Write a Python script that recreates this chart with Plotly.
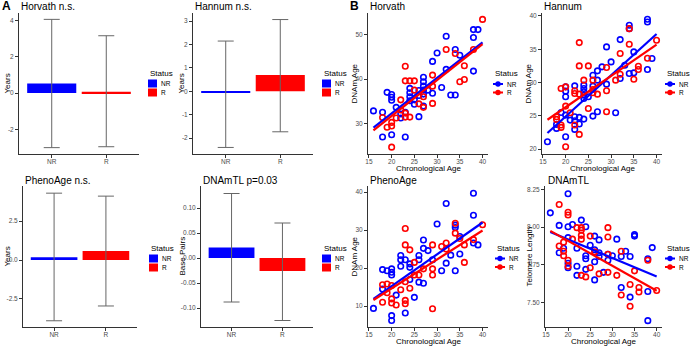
import plotly.graph_objects as go

W, H = 690, 346
BLUE, RED = "#0000FF", "#FF0000"
FONT = "Liberation Sans, Arial, sans-serif"

# ---------------- Panel A data (mean and error-bar limits) ----------------
groups = ["NR", "R"]
horvath_mean = [0.52, 0.07]
horvath_low = [-3.0, -2.95]
horvath_high = [4.05, 3.15]

hannum_mean = [-0.07, 0.70]
hannum_low = [-2.40, -1.73]
hannum_high = [2.15, 3.07]

pheno_mean = [0.18, 0.58]
pheno_low = [-3.90, -2.95]
pheno_high = [4.29, 4.10]

tl_mean = [0.021, -0.026]
tl_low = [-0.088, -0.125]
tl_high = [0.129, 0.070]

# ---------------- Panel B data (chronological age vs clock) ----------------
horvath_nr_age = [16, 18, 18, 19, 20, 20, 20, 20, 21, 22, 22, 23, 23, 24, 24, 24, 24, 25, 25, 26, 26, 26,
                  27, 27, 27, 27, 27, 27, 28, 29, 29, 30, 31, 32, 32, 33, 34, 34, 35, 38, 38, 38, 39]
horvath_nr_val = [32.8, 32.5, 26.9, 37.0, 36.5, 35.9, 35.2, 27.4, 33.6, 32.1, 31.2, 26.9, 32.5, 37.9, 36.9, 36.0, 35.1, 35.3, 34.3, 37.4, 36.3, 31.5,
                  40.4, 39.4, 38.4, 37.5, 36.6, 33.9, 37.5, 44.0, 36.8, 45.9, 38.1, 49.7, 42.2, 36.4, 46.7, 36.4, 45.4, 51.2, 49.4, 41.8, 51.2]
horvath_r_age = [18, 19, 20, 20, 20, 21, 22, 22, 23, 23, 23, 23, 24, 24, 25, 25, 26, 27, 27, 29, 29, 29,
                 32, 34, 35, 36, 36, 38, 40]
horvath_r_val = [31.3, 29.1, 30.2, 29.4, 24.6, 31.2, 35.3, 33.0, 42.9, 39.6, 32.3, 31.4, 39.6, 31.4, 39.6, 37.5, 34.4, 33.6, 36.0, 40.9, 38.4, 34.5,
                 46.7, 45.8, 39.4, 43.0, 39.9, 46.7, 53.5]
horvath_fit_nr = [29.0, 48.3]
horvath_fit_r = [28.4, 47.9]

hannum_nr_age = [16, 18, 18, 19, 20, 20, 20, 20, 20, 21, 22, 22, 22, 22, 23, 23, 24, 24, 24, 24, 24, 24, 25, 26, 26, 26,
                 27, 27, 27, 28, 29, 29, 30, 31, 32, 32, 33, 34, 34, 34, 35, 35, 38, 38, 38, 39]
hannum_nr_val = [21.1, 23.7, 23.1, 25.5, 29.35, 28.7, 27.85, 25.1, 21.85, 24.35, 29.5, 24.85, 24.25, 22.95, 24.75, 23.75, 29.6, 29.1, 28.6, 28.1, 27.6, 24.5, 27.85,
                 31.1, 29.45, 24.95, 31.75, 30.35, 25.6, 32.35, 35.35, 29.75, 33.1, 25.45, 36.45, 30.6, 32.6, 38.6, 38.1, 31.35, 34.6, 31.45, 39.5, 39.1, 31.95, 33.6]
hannum_r_age = [18, 18, 19, 19, 19, 20, 20, 20, 21, 22, 22, 22, 23, 23, 23, 23, 24, 25, 25, 26, 26, 26, 27, 29, 29, 29,
                31, 32, 32, 34, 34, 35, 36, 36, 38, 40]
hannum_r_val = [24.85, 24.45, 29.1, 23.6, 23.25, 29.35, 26.45, 20.35, 25.45, 28.75, 28.35, 23.6, 36.0, 32.5, 28.25, 22.2, 30.35, 32.5, 26.1, 30.35, 28.95, 28.45,
                28.25, 32.25, 28.75, 25.6, 30.35, 34.35, 31.25, 35.75, 38.1, 30.5, 32.45, 31.95, 33.65, 36.35]
hannum_fit_nr = [22.4, 37.3]
hannum_fit_r = [24.4, 35.7]

pheno_nr_age = [16, 18, 18, 19, 20, 20, 20, 20, 20, 21, 22, 22, 22, 23, 23, 24, 24, 24, 25, 26, 26, 26, 27, 27, 27,
                28, 29, 30, 31, 32, 32, 33, 34, 34, 34, 35, 35, 38, 38, 38, 39]
pheno_nr_val = [9.4, 19.6, 14.5, 19.3, 19.8, 18.9, 18.2, 7.5, 6.2, 12.9, 23.3, 22.2, 20.5, 22.2, 8.2, 21.1, 20.2, 17.0, 12.3, 23.3, 22.2, 16.3, 27.4, 25.2, 16.0,
                24.6, 22.2, 31.6, 19.3, 37.0, 21.3, 23.4, 19.3, 31.3, 30.7, 28.3, 23.7, 39.7, 33.9, 26.6, 26.1]
pheno_r_age = [18, 18, 19, 19, 20, 20, 20, 21, 22, 23, 23, 23, 23, 23, 24, 24, 25, 25, 26, 27, 29, 29, 29, 29,
               31, 32, 32, 34, 34, 35, 36, 36, 38, 40]
pheno_r_val = [15.6, 11.0, 15.8, 13.5, 15.4, 11.9, 10.8, 10.3, 14.3, 30.4, 26.1, 16.4, 11.5, 10.6, 24.8, 14.7, 21.5, 18.2, 18.2, 19.8, 26.1, 19.8, 18.2, 9.3,
               25.7, 26.6, 25.0, 31.8, 29.2, 27.8, 26.1, 21.5, 27.5, 31.4]
pheno_fit_nr = [11.9, 32.0]
pheno_fit_r = [11.6, 29.9]

tl_nr_age = [16, 18, 18, 19, 20, 20, 20, 20, 20, 21, 22, 22, 22, 23, 24, 24, 24, 24, 25, 26, 26, 26, 26, 27, 27, 27,
             28, 29, 29, 30, 31, 32, 32, 33, 34, 34, 35, 35, 38, 38, 38, 39]
tl_nr_val = [8.094, 8.011, 7.83, 7.86, 8.221, 8.002, 7.93, 7.76, 7.73, 8.017, 7.86, 7.74, 7.68, 8.046, 8.002, 7.81, 7.79, 7.72, 7.88, 7.94, 7.85, 7.77, 7.65,
             7.915, 7.83, 7.805, 7.70, 7.82, 7.78, 7.81, 7.92, 7.60, 7.805, 7.84, 7.805, 7.536, 7.95, 7.94, 7.79, 7.573, 7.38, 7.864]
tl_r_age = [18, 18, 19, 19, 19, 20, 20, 20, 20, 21, 22, 23, 23, 23, 23, 23, 24, 25, 25, 26, 27, 29, 29, 29, 29,
            31, 32, 32, 34, 34, 35, 36, 36, 38, 40]
tl_r_val = [8.149, 7.875, 7.90, 7.84, 7.81, 8.098, 8.08, 7.78, 7.74, 7.92, 7.996, 7.996, 7.98, 7.945, 7.92, 7.68, 7.67, 7.94, 7.73, 7.836, 7.69,
            7.996, 7.934, 7.82, 7.70, 7.68, 7.84, 7.55, 7.62, 7.475, 7.71, 7.60, 7.57, 7.78, 7.58]
tl_fit_nr = [7.967, 7.672]
tl_fit_r = [7.975, 7.578]
fit_age = [16, 40]

age_ticks = [15, 20, 25, 30, 35, 40]

fig = go.Figure()


def px_x(p):
    return p / W


def px_y(p):
    return 1 - p / H


TOP_ROW = (13, 154)
BOT_ROW = (186, 327)

panels = [
    ("A1", (19, 139), TOP_ROW),
    ("A2", (193, 313), TOP_ROW),
    ("A3", (23, 137), BOT_ROW),
    ("A4", (201, 313), BOT_ROW),
    ("B1", (368, 488), TOP_ROW),
    ("B2", (542, 662), TOP_ROW),
    ("B3", (368, 488), BOT_ROW),
    ("B4", (545, 662), BOT_ROW),
]

axis_common = dict(
    showgrid=False, zeroline=False, showline=True, linecolor="#333333", linewidth=1,
    ticks="outside", ticklen=3, tickcolor="#333333", tickwidth=1, automargin=False,
    tickfont=dict(family=FONT, size=6.5, color="#4d4d4d"),
)

layout_axes = {}
for i, (key, (x0, x1), (t, b)) in enumerate(panels, start=1):
    xs = "xaxis" if i == 1 else f"xaxis{i}"
    ys = "yaxis" if i == 1 else f"yaxis{i}"
    layout_axes[xs] = dict(domain=[px_x(x0), px_x(x1)], anchor=f"y{'' if i == 1 else i}",
                           ticklabelstandoff=-2, **axis_common)
    layout_axes[ys] = dict(domain=[px_y(b), px_y(t)], anchor=f"x{'' if i == 1 else i}", **axis_common)

annotations = []
shapes = []


def add_text(text, px, py, size, xanchor="left", angle=0, color="#000000"):
    annotations.append(dict(text=text, x=px_x(px), y=px_y(py), xref="paper", yref="paper",
                            xanchor=xanchor, yanchor="middle", showarrow=False, textangle=angle,
                            font=dict(family=FONT, size=size, color=color)))


# ---------------- Panel A bar charts ----------------
bar_sets = [
    (1, horvath_mean, horvath_low, horvath_high, [-2, 0, 2, 4], ["-2", "0", "2", "4"], [-3.35, 4.4]),
    (2, hannum_mean, hannum_low, hannum_high, [-2, -1, 0, 1, 2, 3], ["-2", "-1", "0", "1", "2", "3"], [-2.68, 3.35]),
    (3, pheno_mean, pheno_low, pheno_high, [-2.5, 0, 2.5], ["-2.5", "0.0", "2.5"], [-4.3, 4.75]),
    (4, tl_mean, tl_low, tl_high, [-0.1, -0.05, 0, 0.05, 0.1], ["-0.10", "-0.05", "0.00", "0.05", "0.10"], [-0.138, 0.144]),
]
for idx, mean, low, high, tv, tt, yr in bar_sets:
    xa = "x" if idx == 1 else f"x{idx}"
    ya = "y" if idx == 1 else f"y{idx}"
    for g, m, lo, hi, col in zip(groups, mean, low, high, [BLUE, RED]):
        fig.add_trace(go.Bar(
            x=[g], y=[m], width=0.9, name=g, marker=dict(color=col, line=dict(width=0)),
            error_y=dict(type="data", symmetric=False, array=[hi - m], arrayminus=[m - lo],
                         color="#666666", thickness=1, width=8),
            xaxis=xa, yaxis=ya, showlegend=False,
        ))
    xs = "xaxis" if idx == 1 else f"xaxis{idx}"
    ys = "yaxis" if idx == 1 else f"yaxis{idx}"
    layout_axes[xs].update(type="category", categoryorder="array", categoryarray=groups, range=[-0.6, 1.6])
    layout_axes[ys].update(range=yr, tickvals=tv, ticktext=tt)

# ---------------- Panel B scatter plots ----------------
scatter_sets = [
    (5, horvath_nr_age, horvath_nr_val, horvath_r_age, horvath_r_val, horvath_fit_nr, horvath_fit_r,
     [30, 40, 50], ["30", "40", "50"], [23.05, 54.95]),
    (6, hannum_nr_age, hannum_nr_val, hannum_r_age, hannum_r_val, hannum_fit_nr, hannum_fit_r,
     [20, 25, 30, 35, 40], ["20", "25", "30", "35", "40"], [19.25, 40.45]),
    (7, pheno_nr_age, pheno_nr_val, pheno_r_age, pheno_r_val, pheno_fit_nr, pheno_fit_r,
     [10, 20, 30, 40], ["10", "20", "30", "40"], [4.5, 41.6]),
    (8, tl_nr_age, tl_nr_val, tl_r_age, tl_r_val, tl_fit_nr, tl_fit_r,
     [7.5, 7.75, 8.0, 8.25], ["7.50", "7.75", "8.00", "8.25"], [7.338, 8.272]),
]
for idx, nx, ny, rx, ry, fnr, fr, tv, tt, yr in scatter_sets:
    xa, ya = f"x{idx}", f"y{idx}"
    for g, xx, yy, col in [("NR", nx, ny, BLUE), ("R", rx, ry, RED)]:
        fig.add_trace(go.Scatter(
            x=xx, y=yy, mode="markers", name=g, showlegend=False,
            marker=dict(symbol="circle-open", size=5.5, color=col, line=dict(width=1.6, color=col)),
            xaxis=xa, yaxis=ya,
        ))
    for g, fit, col in [("NR", fnr, BLUE), ("R", fr, RED)]:
        fig.add_trace(go.Scatter(
            x=fit_age, y=fit, mode="lines", name=g, showlegend=False,
            line=dict(color=col, width=2.2), xaxis=xa, yaxis=ya,
        ))
    layout_axes[f"xaxis{idx}"].update(range=[14.8, 41.2], tickvals=age_ticks)
    layout_axes[f"yaxis{idx}"].update(range=yr, tickvals=tv, ticktext=tt)

# ---------------- Axis titles ----------------
y_titles = [("Years", 7, TOP_ROW), ("Years", 181, TOP_ROW), ("Years", 7, BOT_ROW), ("Base Pairs", 182, BOT_ROW),
            ("DNAm Age", 354, TOP_ROW), ("DNAm Age", 528, TOP_ROW), ("DNAm Age", 354, BOT_ROW),
            ("Telomere Length", 529, BOT_ROW)]
for text, px, (t, b) in y_titles:
    add_text(text, px, (t + b) / 2, 8, xanchor="center", angle=-90)
for (x0, x1), py in [((368, 488), 168), ((542, 662), 168), ((368, 488), 341.5), ((545, 662), 341.5)]:
    add_text("Chronological Age", (x0 + x1) / 2, py, 8, xanchor="center")

# ---------------- Legends (ggplot-style key boxes) ----------------
legend_groups = [("NR", BLUE), ("R", RED)]
bar_legends = [(148, 74, 83.5, 92.5), (322, 74, 83.5, 92.5), (149, 248, 258.5, 267.5), (322, 248, 258.5, 267.5)]
for lx, ty, y1, y2 in bar_legends:
    add_text("Status", lx, ty, 8)
    for (g, col), cy in zip(legend_groups, [y1, y2]):
        shapes.append(dict(type="rect", xref="paper", yref="paper", x0=px_x(lx), x1=px_x(lx + 9),
                           y0=px_y(cy + 4), y1=px_y(cy - 4), fillcolor=col, line=dict(width=0)))
        add_text(g, lx + 11, cy, 6.5)
pt_legends = [(493, 74, 84, 92.5), (665, 74, 84, 92.5), (495, 248, 258.5, 267), (665, 248, 258.5, 267)]
for lx, ty, y1, y2 in pt_legends:
    add_text("Status", lx, ty, 8)
    for (g, col), cy in zip(legend_groups, [y1, y2]):
        shapes.append(dict(type="line", xref="paper", yref="paper", x0=px_x(lx), x1=px_x(lx + 10),
                           y0=px_y(cy), y1=px_y(cy), line=dict(color=col, width=2)))
        shapes.append(dict(type="circle", xref="paper", yref="paper", x0=px_x(lx + 2.3), x1=px_x(lx + 7.7),
                           y0=px_y(cy + 2.7), y1=px_y(cy - 2.7), fillcolor=col, line=dict(width=0)))
        add_text(g, lx + 12, cy, 6.5)

# ---------------- Titles ----------------
titles = [
    ("Horvath n.s.", 19, 7), ("Hannum n.s.", 193, 7), ("PhenoAge n.s.", 23, 180), ("DNAmTL p=0.03", 201, 180),
    ("Horvath", 368, 7), ("Hannum", 542, 7), ("PhenoAge", 368, 180), ("DNAmTL", 546, 180),
]
for text, px, py in titles:
    add_text(text, px, py, 10)
for text, px in [("A", 7), ("B", 354)]:
    add_text(f"<b>{text}</b>", px, 6, 12, xanchor="center")

fig.update_layout(
    width=W, height=H, autosize=False, margin=dict(l=0, r=0, t=0, b=0, autoexpand=False),
    paper_bgcolor="white", plot_bgcolor="white", barmode="overlay", showlegend=False,
    font=dict(family=FONT), annotations=annotations, shapes=shapes, **layout_axes,
)

fig.write_html("out.html", config={"displayModeBar": False},
               post_script="document.body.style.margin='0';document.body.style.overflow='hidden';")
